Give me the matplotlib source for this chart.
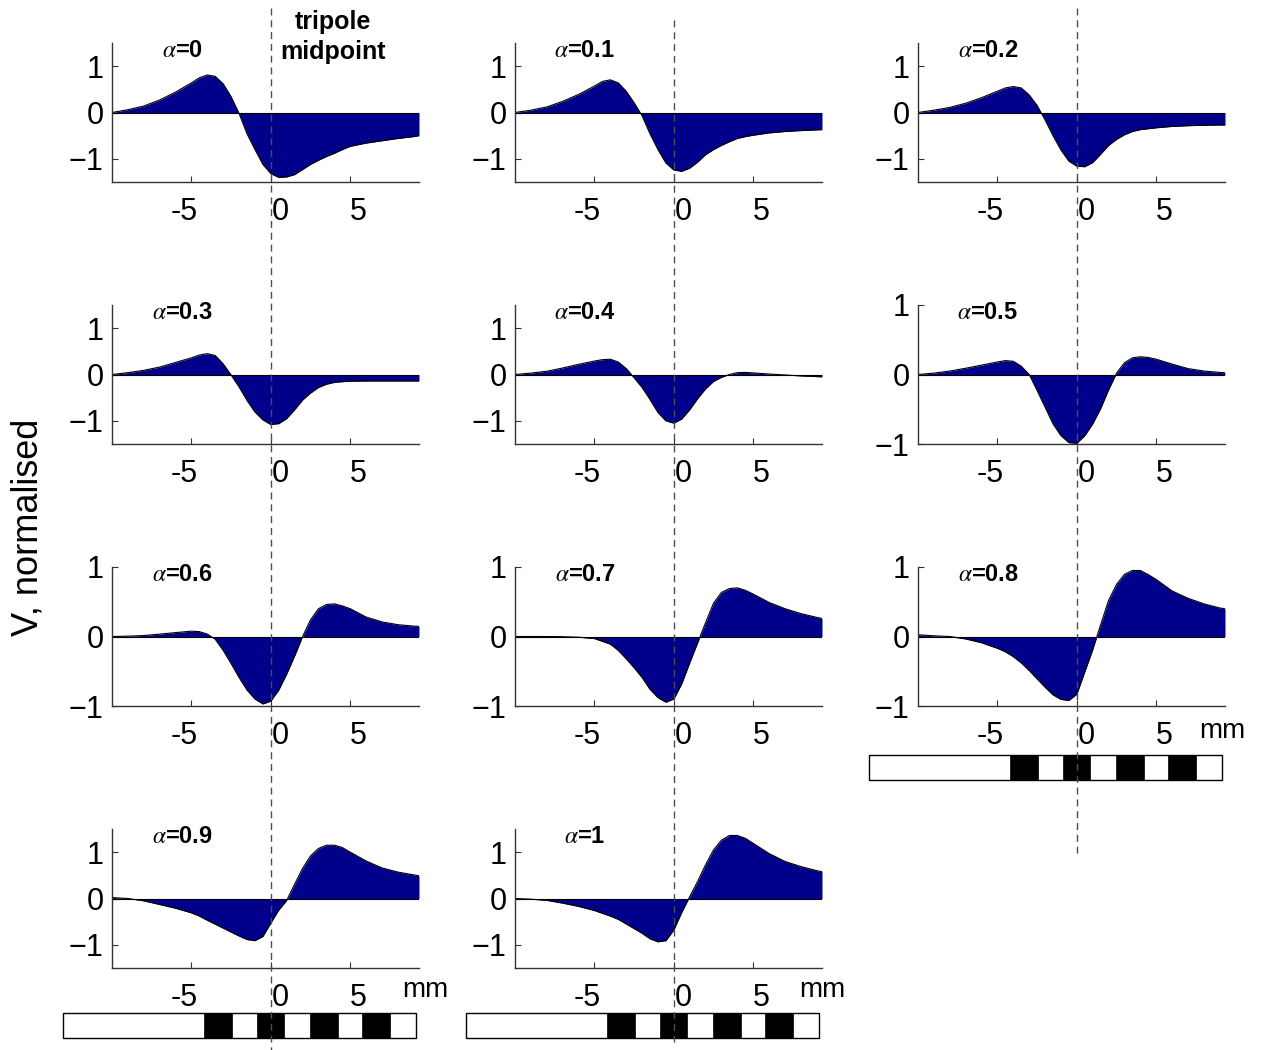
import matplotlib.pyplot as plt
from matplotlib.patches import Rectangle
from matplotlib.lines import Line2D
from matplotlib.transforms import ScaledTranslation

plt.rcParams['font.family'] = ['Liberation Sans', 'DejaVu Sans']
plt.rcParams['mathtext.fontset'] = 'stix'

# position along the nerve, mm (same grid for every panel)
x_mm = [-10, -9, -8, -7, -6, -5, -4.5, -4, -3.5, -3, -2.5, -2, -1.5, -1, -0.5, 0,
        0.5, 1, 1.5, 2, 2.5, 3, 3.5, 4, 4.5, 5, 6, 7, 8, 9, 9.33]

# normalised potential for each alpha
v_a00 = [0, 0.06, 0.14, 0.27, 0.44, 0.64, 0.75, 0.81, 0.78, 0.62, 0.34, -0.02, -0.46, -0.80, -1.12, -1.32,
         -1.40, -1.39, -1.34, -1.23, -1.12, -1.03, -0.95, -0.88, -0.80, -0.73, -0.66, -0.61, -0.56, -0.52, -0.50]
v_a01 = [0, 0.05, 0.12, 0.24, 0.39, 0.57, 0.67, 0.705, 0.64, 0.46, 0.21, -0.07, -0.46, -0.80, -1.09, -1.24,
         -1.27, -1.20, -1.07, -0.91, -0.80, -0.71, -0.63, -0.56, -0.52, -0.49, -0.44, -0.41, -0.39, -0.375, -0.37]
v_a02 = [0, 0.05, 0.11, 0.20, 0.32, 0.46, 0.53, 0.56, 0.53, 0.38, 0.15, -0.16, -0.50, -0.81, -1.05, -1.16,
         -1.17, -1.08, -0.90, -0.71, -0.58, -0.48, -0.41, -0.37, -0.35, -0.33, -0.30, -0.285, -0.275, -0.27, -0.27]
v_a03 = [0, 0.04, 0.09, 0.16, 0.26, 0.36, 0.42, 0.45, 0.41, 0.23, -0.01, -0.27, -0.56, -0.81, -0.98, -1.08,
         -1.06, -0.95, -0.76, -0.55, -0.40, -0.28, -0.21, -0.17, -0.155, -0.145, -0.14, -0.14, -0.14, -0.14, -0.14]
v_a04 = [0, 0.03, 0.07, 0.14, 0.22, 0.29, 0.32, 0.33, 0.27, 0.13, -0.07, -0.28, -0.54, -0.82, -1.0, -1.05,
         -0.96, -0.76, -0.52, -0.31, -0.15, -0.06, 0.0, 0.04, 0.045, 0.035, 0.01, -0.01, -0.03, -0.045, -0.05]
v_a05 = [0, 0.02, 0.05, 0.09, 0.135, 0.18, 0.20, 0.19, 0.12, 0.0, -0.23, -0.47, -0.71, -0.88, -0.98, -0.99,
         -0.88, -0.71, -0.49, -0.22, 0.02, 0.17, 0.24, 0.255, 0.245, 0.22, 0.15, 0.085, 0.05, 0.03, 0.024]
v_a06 = [0, 0.005, 0.014, 0.034, 0.056, 0.077, 0.07, 0.035, -0.04, -0.20, -0.39, -0.59, -0.77, -0.90, -0.97, -0.93,
         -0.77, -0.54, -0.28, 0.0, 0.24, 0.40, 0.46, 0.47, 0.44, 0.40, 0.28, 0.21, 0.17, 0.15, 0.145]
v_a07 = [0, 0, 0, -0.003, -0.01, -0.03, -0.07, -0.11, -0.20, -0.32, -0.45, -0.59, -0.76, -0.88, -0.945, -0.90,
         -0.68, -0.38, -0.09, 0.20, 0.48, 0.635, 0.69, 0.70, 0.665, 0.61, 0.49, 0.40, 0.33, 0.275, 0.26]
v_a08 = [0.025, 0.01, 0.0, -0.035, -0.09, -0.17, -0.22, -0.29, -0.38, -0.49, -0.61, -0.73, -0.84, -0.905, -0.92, -0.83,
         -0.51, -0.19, 0.17, 0.52, 0.75, 0.895, 0.95, 0.95, 0.89, 0.82, 0.655, 0.55, 0.47, 0.41, 0.40]
v_a09 = [0.02, 0.0, -0.05, -0.13, -0.21, -0.31, -0.38, -0.47, -0.555, -0.64, -0.725, -0.81, -0.885, -0.91, -0.82, -0.53,
         -0.25, -0.04, 0.31, 0.65, 0.92, 1.08, 1.15, 1.15, 1.10, 1.0, 0.81, 0.66, 0.57, 0.51, 0.49]
v_a10 = [0, -0.015, -0.04, -0.10, -0.17, -0.26, -0.32, -0.38, -0.45, -0.55, -0.65, -0.75, -0.87, -0.935, -0.91, -0.68,
         -0.30, 0.04, 0.37, 0.73, 1.05, 1.26, 1.36, 1.36, 1.30, 1.19, 0.97, 0.80, 0.69, 0.60, 0.58]

alpha_labels = ['0', '0.1', '0.2', '0.3', '0.4', '0.5', '0.6', '0.7', '0.8', '0.9', '1']
series = [v_a00, v_a01, v_a02, v_a03, v_a04, v_a05, v_a06, v_a07, v_a08, v_a09, v_a10]
y_half_range = [1.5, 1.5, 1.5, 1.5, 1.5, 1, 1, 1, 1, 1.5, 1.5]

x_ticks = [-5, 0, 5]
x_tick_labels = ['-5', '0', '5']
y_ticks = [-1, 0, 1]
y_tick_labels = ['\u22121', '0', '1']

# electrode (tripole) layout drawn under the bottom panels, mm
bar_start, bar_end = -13.1, 9.15
contact_starts = [-4.2, -0.9, 2.45, 5.75]
contact_width = 1.75

W, H = 1261, 1050
fig = plt.figure(figsize=(W / 100, H / 100), dpi=100)

col_left = [112, 515, 918]
row_bottom = [182, 444, 706, 968]
ax_w, ax_h = 307, 139
fill_col = '#00008B'

axes = []
for i, (lab, v) in enumerate(zip(alpha_labels, series)):
    r, c = divmod(i, 3)
    ax = fig.add_axes([col_left[c] / W, 1 - row_bottom[r] / H, ax_w / W, ax_h / H])
    ax.fill_between(x_mm, v, 0, color=fill_col, linewidth=0)
    ax.plot(x_mm, v, color='black', lw=0.8)
    ax.axhline(0, color='black', lw=0.8)
    ax.set_xlim(-10, 9.33)
    ax.set_ylim(-y_half_range[i], y_half_range[i])
    for s in ['top', 'right']:
        ax.spines[s].set_visible(False)
    for s in ['left', 'bottom']:
        ax.spines[s].set_color('0.2')
        ax.spines[s].set_linewidth(1.0)
    ax.set_xticks(x_ticks)
    ax.set_xticklabels(x_tick_labels)
    ax.set_yticks(y_ticks)
    ax.set_yticklabels(y_tick_labels)
    ax.tick_params(direction='in', length=4, width=0.8, labelsize=22, color='0.2')
    ax.tick_params(axis='x', pad=11)
    ax.tick_params(axis='y', pad=6)
    for tl, dx in zip(ax.get_xticklabels(), [-7, 9.5, 8.5]):
        tl.set_transform(tl.get_transform() + ScaledTranslation(dx / 100, 0, fig.dpi_scale_trans))
    ax.text(0.228, 0.945, r'$\alpha$=' + lab, transform=ax.transAxes, ha='center', va='center',
            fontsize=17, fontweight='bold')
    axes.append(ax)

# "mm" unit next to the bottom x axes
mm_pos = {8: (0.99, -0.18), 9: (1.02, -0.155), 10: (1.0, -0.155)}
for i, (mx, my) in mm_pos.items():
    axes[i].text(mx, my, 'mm', transform=axes[i].transAxes, ha='center', va='center', fontsize=20)

# electrode bars
bar_tops = {8: 755, 9: 1013, 10: 1013}
for i, top in bar_tops.items():
    c = i % 3
    bax = fig.add_axes([col_left[c] / W, 1 - (top + 24.5) / H, ax_w / W, 24.5 / H])
    bax.set_xlim(axes[i].get_xlim())
    bax.set_ylim(0, 1)
    bax.axis('off')
    bax.add_patch(Rectangle((bar_start, 0), bar_end - bar_start, 1, facecolor='white',
                            edgecolor='black', lw=1, clip_on=False))
    for s in contact_starts:
        bax.add_patch(Rectangle((s, 0), contact_width, 1, facecolor='black',
                                edgecolor='black', lw=0.5, clip_on=False))

# dashed lines through the tripole midpoint (x = 0) of each column
fig.canvas.draw()
dash_spans = [(8, 1050), (20, 1042), (8, 856)]
for c, (y0, y1) in enumerate(dash_spans):
    xf = fig.transFigure.inverted().transform(axes[c].transData.transform((0, 0)))[0]
    fig.add_artist(Line2D([xf, xf], [1 - y0 / H, 1 - y1 / H], transform=fig.transFigure,
                          color='0.3', lw=1, linestyle=(0, (5, 3.5)), zorder=10))

fig.text(333 / W, 1 - 37 / H, 'tripole\nmidpoint', ha='center', va='center',
         fontsize=18, fontweight='bold', linespacing=1.3)
fig.text(28 / W, 1 - 527 / H, 'V, normalised', rotation=90, ha='center', va='center', fontsize=26)

fig.savefig('out.png', dpi=100)
